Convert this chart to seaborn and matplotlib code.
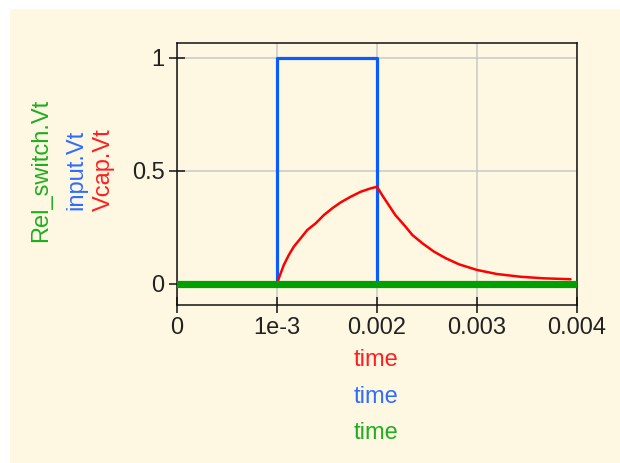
import matplotlib
matplotlib.use("Agg")
import matplotlib.pyplot as plt
from matplotlib.patches import Rectangle
import seaborn as sns
import pandas as pd

# traces
input_time = [0.0, 0.001, 0.001, 0.002, 0.002, 0.004]
input_vt = [0, 0, 1, 1, 0, 0]

vcap_time = [0.0, 0.001, 0.001018, 0.001068, 0.001118, 0.001168, 0.001236, 0.001303,
             0.001386, 0.001469, 0.001553, 0.001637, 0.001737, 0.001837, 0.001937,
             0.002, 0.00205, 0.002116, 0.002183, 0.002271, 0.002353, 0.002454,
             0.00257, 0.002687, 0.00282, 0.003, 0.0032, 0.003434, 0.003668, 0.003935]
vcap_vt = [0.0, 0.0, 0.025, 0.084, 0.128, 0.165, 0.202, 0.239,
           0.268, 0.305, 0.335, 0.361, 0.386, 0.408, 0.423,
           0.43, 0.394, 0.35, 0.305, 0.261, 0.217, 0.18,
           0.143, 0.114, 0.087, 0.062, 0.044, 0.032, 0.025, 0.021]

switch_time = [0.0, 0.004]
switch_vt = [0, 0]

xticks = [0, 0.001, 0.002, 0.003, 0.004]
xtick_labels = ["0", "1e-3", "0.002", "0.003", "0.004"]
yticks = [0, 0.5, 1]
ytick_labels = ["0", "0.5", "1"]

cream = "#fef8e2"

sns.set_theme(style="ticks")
plt.rcParams["font.family"] = ["Liberation Sans", "DejaVu Sans"]

fig = plt.figure(figsize=(6.2, 4.63), dpi=100, facecolor="white")
fig.patches.append(Rectangle((10 / 620, 0), 1, 1 - 9 / 463, transform=fig.transFigure,
                             facecolor=cream, edgecolor="none", zorder=-10))
ax = fig.add_axes([177 / 620, 1 - 305 / 463, 400 / 620, 262 / 463])
ax.set_facecolor(cream)

sns.lineplot(x=input_time, y=input_vt, ax=ax, color="#0b5cff", lw=2.3,
             estimator=None, sort=False, zorder=3)
sns.lineplot(x=vcap_time, y=vcap_vt, ax=ax, color="#ff0000", lw=1.8,
             estimator=None, sort=False, zorder=4)
sns.lineplot(x=switch_time, y=switch_vt, ax=ax, color="#00a000", lw=5.2,
             estimator=None, sort=False, zorder=5)

ax.set_xlim(0, 0.004)
ax.set_ylim(-0.093, 1.066)
ax.set_xticks(xticks)
ax.set_xticklabels(xtick_labels)
ax.set_yticks(yticks)
ax.set_yticklabels(ytick_labels)
ax.grid(True, color="#c8c8c8", lw=1.1)
ax.set_axisbelow(True)
ax.tick_params(direction="inout", length=12, width=1.1, color="#111111",
               labelsize=17, labelcolor="#222222", pad=3)
for s in ax.spines.values():
    s.set_visible(True)
    s.set_color("#111111")
    s.set_linewidth(1.1)
ax.set_xlabel("")
ax.set_ylabel("")

# stacked axis titles, one per trace
ycen = 1 - 170 / 463
fig.text(41 / 620, ycen, "Rel_switch.Vt", rotation=90, color="#1fae1f",
         fontsize=17, ha="center", va="center")
fig.text(76 / 620, ycen, "input.Vt", rotation=90, color="#2f6cff",
         fontsize=17, ha="center", va="center")
fig.text(104 / 620, ycen, "Vcap.Vt", rotation=90, color="#ff1f1f",
         fontsize=17, ha="center", va="center")

xc = 376 / 620
fig.text(xc, 1 - 360 / 463, "time", color="#ff1f1f", fontsize=17, ha="center", va="center")
fig.text(xc, 1 - 397 / 463, "time", color="#2f6cff", fontsize=17, ha="center", va="center")
fig.text(xc, 1 - 433 / 463, "time", color="#1fae1f", fontsize=17, ha="center", va="center")

fig.savefig("out.png", dpi=100, facecolor="white")
